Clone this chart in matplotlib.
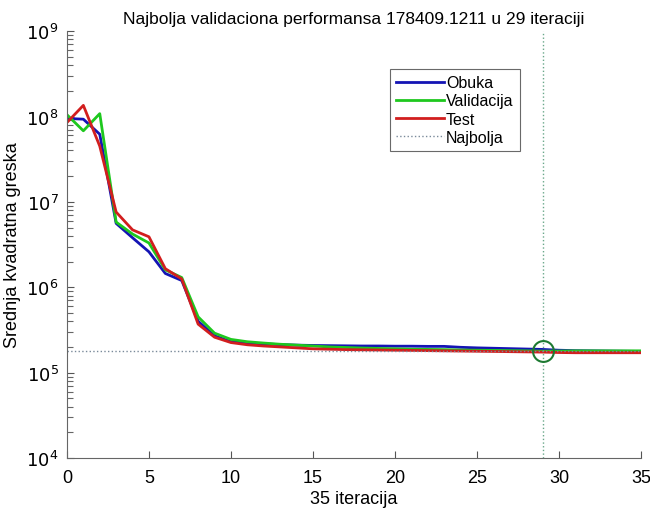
import numpy as np
import matplotlib
matplotlib.use('Agg')
import matplotlib.pyplot as plt
from matplotlib import ticker

plt.rcParams['font.family'] = ['Liberation Sans', 'DejaVu Sans']

epochs = np.arange(36)
obuka = [9.5e7, 9.3e7, 6.2e7, 5.6e6, 3.8e6, 2.6e6, 1.45e6, 1.2e6, 4.0e5, 2.7e5,
         2.3e5, 2.22e5, 2.17e5, 2.13e5, 2.1e5, 2.08e5, 2.07e5, 2.06e5, 2.05e5, 2.05e5,
         2.04e5, 2.04e5, 2.03e5, 2.03e5, 1.98e5, 1.95e5, 1.93e5, 1.91e5, 1.89e5, 1.87e5,
         1.83e5, 1.81e5, 1.8e5, 1.79e5, 1.78e5, 1.77e5]
validacija = [1.05e8, 6.8e7, 1.08e8, 5.8e6, 4.2e6, 3.3e6, 1.6e6, 1.3e6, 4.5e5, 2.9e5,
              2.45e5, 2.3e5, 2.22e5, 2.15e5, 2.1e5, 2.05e5, 2.0e5, 1.97e5, 1.94e5, 1.92e5,
              1.9e5, 1.88e5, 1.87e5, 1.86e5, 1.84e5, 1.83e5, 1.82e5, 1.81e5, 1.8e5, 1.784e5,
              1.79e5, 1.8e5, 1.8e5, 1.8e5, 1.8e5, 1.8e5]
test = [8.5e7, 1.35e8, 4.5e7, 7.6e6, 4.7e6, 3.9e6, 1.65e6, 1.25e6, 3.7e5, 2.6e5,
        2.25e5, 2.12e5, 2.05e5, 2.0e5, 1.95e5, 1.9e5, 1.88e5, 1.86e5, 1.85e5, 1.84e5,
        1.83e5, 1.82e5, 1.81e5, 1.8e5, 1.79e5, 1.78e5, 1.77e5, 1.76e5, 1.75e5, 1.74e5,
        1.72e5, 1.71e5, 1.71e5, 1.71e5, 1.71e5, 1.71e5]
best_epoch = 29
best_perf = 178409.1211

fig = plt.figure(figsize=(6.5, 5.1), dpi=100)
ax = fig.add_axes([0.103, 0.1, 0.883, 0.837])

ax.semilogy(epochs, obuka, color='#1414b4', lw=2, label='Obuka')
ax.semilogy(epochs, validacija, color='#1ec81e', lw=2, label='Validacija')
ax.semilogy(epochs, test, color='#d21e1e', lw=2, label='Test')
ax.axhline(best_perf, color='#7a8a9a', lw=1, ls=':', label='Najbolja')
ax.axvline(best_epoch, color='#6aa88a', lw=1, ls=':')
ax.plot([best_epoch], [best_perf], 'o', mfc='none', mec='#1e7a32', ms=15, mew=1.5)

ax.set_xlim(0, 35)
ax.set_ylim(1e4, 1e9)
ax.set_xticks(range(0, 36, 5))
ax.set_yticks([1e4, 1e5, 1e6, 1e7, 1e8, 1e9])
ax.set_yticklabels([r'$10^{%d}$' % k for k in range(4, 10)])
ax.yaxis.set_minor_locator(ticker.LogLocator(base=10, subs=np.arange(2, 10), numticks=100))
ax.yaxis.set_minor_formatter(ticker.NullFormatter())
ax.tick_params(axis='x', direction='in', labelsize=13, color='#555555', pad=8, length=5)
ax.tick_params(axis='y', direction='in', labelsize=13, color='#555555', pad=6, length=5)
ax.tick_params(axis='y', which='minor', direction='in', color='#666666', length=4, width=0.8)
for s in ['top', 'right']:
    ax.spines[s].set_visible(False)
for s in ['left', 'bottom']:
    ax.spines[s].set_color('#666666')

ax.set_title('Najbolja validaciona performansa 178409.1211 u 29 iteraciji', fontsize=12.5)
ax.set_xlabel('35 iteracija', fontsize=13, labelpad=3)
ax.set_ylabel('Srednja kvadratna greska', fontsize=13, labelpad=4)

leg = ax.legend(loc='upper left', bbox_to_anchor=(0.6, 0.863), bbox_transform=fig.transFigure,
                fontsize=11.5, fancybox=False, edgecolor='#444444', handlelength=3.0,
                handletextpad=0.1, borderpad=0.4, labelspacing=0.2, borderaxespad=0)
leg.get_frame().set_linewidth(0.8)

fig.savefig('out.png', dpi=100)
